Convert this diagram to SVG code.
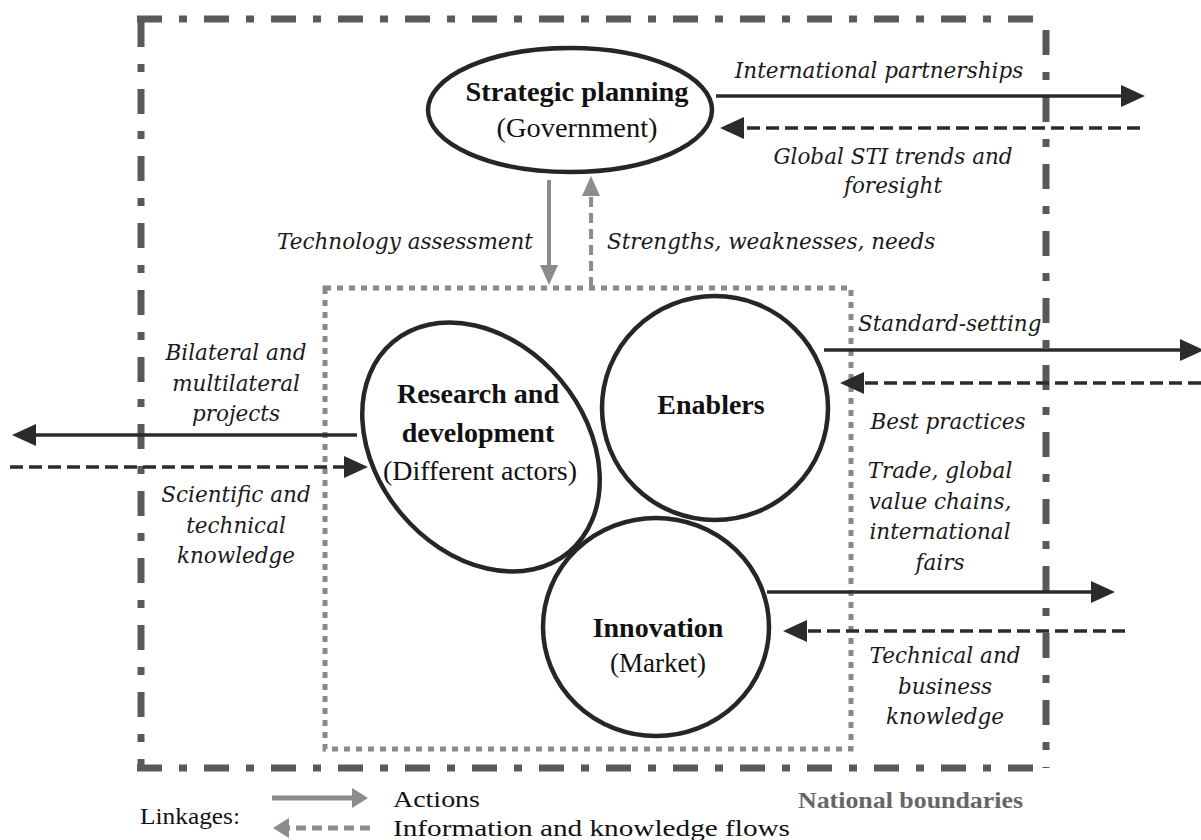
<svg xmlns="http://www.w3.org/2000/svg" width="1201" height="840" viewBox="0 0 1201 840">
<defs>
<style>
.bnd{fill:none;stroke:#595959;stroke-width:7;stroke-dasharray:25 17 8 17}
.inner{fill:none;stroke:#8a8a8a;stroke-width:5;stroke-dasharray:6 6}
.node{fill:#fff;stroke:#262626;stroke-width:4.5}
.bold{font-family:"Liberation Serif",serif;font-weight:bold;font-size:28px;fill:#111;text-anchor:middle}
.reg{font-family:"Liberation Serif",serif;font-size:27px;fill:#111;text-anchor:middle}
.lab{font-family:"DejaVu Serif",serif;font-style:italic;font-size:21.5px;fill:#1a1a1a;text-anchor:middle}
.lab-s{font-family:"DejaVu Serif",serif;font-style:italic;font-size:21.5px;fill:#1a1a1a;text-anchor:start}
.lab-e{font-family:"DejaVu Serif",serif;font-style:italic;font-size:21.5px;fill:#1a1a1a;text-anchor:end}
.sol{fill:none;stroke:#2b2b2b;stroke-width:3.5;marker-end:url(#ah)}
.dsh{fill:none;stroke:#2b2b2b;stroke-width:3.5;stroke-dasharray:13 6;marker-end:url(#ah)}
.gsol{fill:none;stroke:#8c8c8c;stroke-width:4;marker-end:url(#gh)}
.gdsh{fill:none;stroke:#8c8c8c;stroke-width:4;stroke-dasharray:10 6;marker-end:url(#gh)}
.lsol{fill:none;stroke:#8c8c8c;stroke-width:5;marker-end:url(#lh)}
.ldsh{fill:none;stroke:#8c8c8c;stroke-width:5;stroke-dasharray:10 6;marker-end:url(#lh)}
.leg{font-family:"Liberation Serif",serif;font-size:24px;fill:#111}
.nb{font-family:"Liberation Serif",serif;font-size:24px;font-weight:bold;fill:#666;text-anchor:end}
</style>
<marker id="ah" markerUnits="userSpaceOnUse" markerWidth="24" markerHeight="22" viewBox="0 0 24 22" refX="10" refY="11" orient="auto">
<path d="M0,0 L24,11 L0,22 z" fill="#2b2b2b"/>
</marker>
<marker id="gh" markerUnits="userSpaceOnUse" markerWidth="20" markerHeight="18" viewBox="0 0 20 18" refX="8" refY="9" orient="auto">
<path d="M0,0 L20,9 L0,18 z" fill="#8c8c8c"/>
</marker>
<marker id="lh" markerUnits="userSpaceOnUse" markerWidth="16" markerHeight="20" viewBox="0 0 16 20" refX="6" refY="10" orient="auto">
<path d="M0,0 L16,10 L0,20 z" fill="#8c8c8c"/>
</marker>
</defs>
<rect width="1201" height="840" fill="#fff"/>
<g id="national-boundary">
<line class="bnd" x1="137" y1="19" x2="1043" y2="19"/>
<line class="bnd" x1="141" y1="22" x2="141" y2="768"/>
<line class="bnd" x1="137" y1="768" x2="1035" y2="768"/>
<line class="bnd" x1="1046" y1="30" x2="1046" y2="768"/>
</g>
<g id="system-box">
<rect class="inner" x="325" y="288" width="526" height="461"/>
</g>
<g id="strategic-planning">
<ellipse class="node" cx="570" cy="110" rx="142" ry="62"/>
<text class="bold" x="577" y="101" textLength="223" lengthAdjust="spacingAndGlyphs">Strategic planning</text>
<text class="reg" x="577" y="137" textLength="161" lengthAdjust="spacingAndGlyphs">(Government)</text>
</g>
<g id="research-development">
<ellipse class="node" cx="481" cy="447" rx="137" ry="104" transform="rotate(50 481 447)"/>
<text class="bold" x="478" y="403">Research and</text>
<text class="bold" x="478" y="442">development</text>
<text class="reg" x="480" y="480" textLength="194" lengthAdjust="spacingAndGlyphs">(Different actors)</text>
</g>
<g id="enablers">
<ellipse class="node" cx="715" cy="408" rx="113" ry="112"/>
<text class="bold" x="711" y="414">Enablers</text>
</g>
<g id="innovation">
<ellipse class="node" cx="656" cy="627" rx="113" ry="109"/>
<text class="bold" x="658" y="637">Innovation</text>
<text class="reg" x="658" y="672">(Market)</text>
</g>
<g id="connectors">
<line class="sol" x1="716" y1="96" x2="1131" y2="96"/>
<line class="dsh" x1="1140" y1="128" x2="734" y2="128"/>
<line class="gsol" x1="549" y1="180" x2="549" y2="273"/>
<line class="gdsh" x1="591" y1="287" x2="591" y2="188"/>
<line class="sol" x1="824" y1="350" x2="1190" y2="350"/>
<line class="dsh" x1="1201" y1="383" x2="854" y2="383"/>
<line class="sol" x1="357" y1="435" x2="26" y2="435"/>
<line class="dsh" x1="10" y1="467" x2="354" y2="467"/>
<line class="sol" x1="767" y1="592" x2="1101" y2="592"/>
<line class="dsh" x1="1125" y1="631" x2="797" y2="631"/>
</g>
<g id="labels">
<text class="lab" x="879" y="78">International partnerships</text>
<text class="lab" x="893" y="164">Global STI trends and</text>
<text class="lab" x="893" y="193">foresight</text>
<text class="lab-e" x="533" y="249">Technology assessment</text>
<text class="lab-s" x="607" y="249">Strengths, weaknesses, needs</text>
<text class="lab" x="236" y="360">Bilateral and</text>
<text class="lab" x="236" y="391">multilateral</text>
<text class="lab" x="236" y="421">projects</text>
<text class="lab" x="236" y="502">Scientific and</text>
<text class="lab" x="236" y="533">technical</text>
<text class="lab" x="236" y="563">knowledge</text>
<text class="lab-s" x="858" y="331">Standard-setting</text>
<text class="lab" x="948" y="429">Best practices</text>
<text class="lab" x="940" y="478">Trade, global</text>
<text class="lab" x="940" y="509">value chains,</text>
<text class="lab" x="940" y="539">international</text>
<text class="lab" x="940" y="570">fairs</text>
<text class="lab" x="945" y="663">Technical and</text>
<text class="lab" x="945" y="694">business</text>
<text class="lab" x="945" y="724">knowledge</text>
</g>
<g id="legend">
<text class="leg" x="140" y="824" textLength="100" lengthAdjust="spacingAndGlyphs">Linkages:</text>
<line class="lsol" x1="272" y1="798" x2="358" y2="798"/>
<text class="leg" x="393" y="807" textLength="87" lengthAdjust="spacingAndGlyphs">Actions</text>
<line class="ldsh" x1="370" y1="828" x2="283" y2="828"/>
<text class="leg" x="393" y="836" textLength="397" lengthAdjust="spacingAndGlyphs">Information and knowledge flows</text>
<text class="nb" x="1023" y="808" textLength="225" lengthAdjust="spacingAndGlyphs">National boundaries</text>
</g>
</svg>
